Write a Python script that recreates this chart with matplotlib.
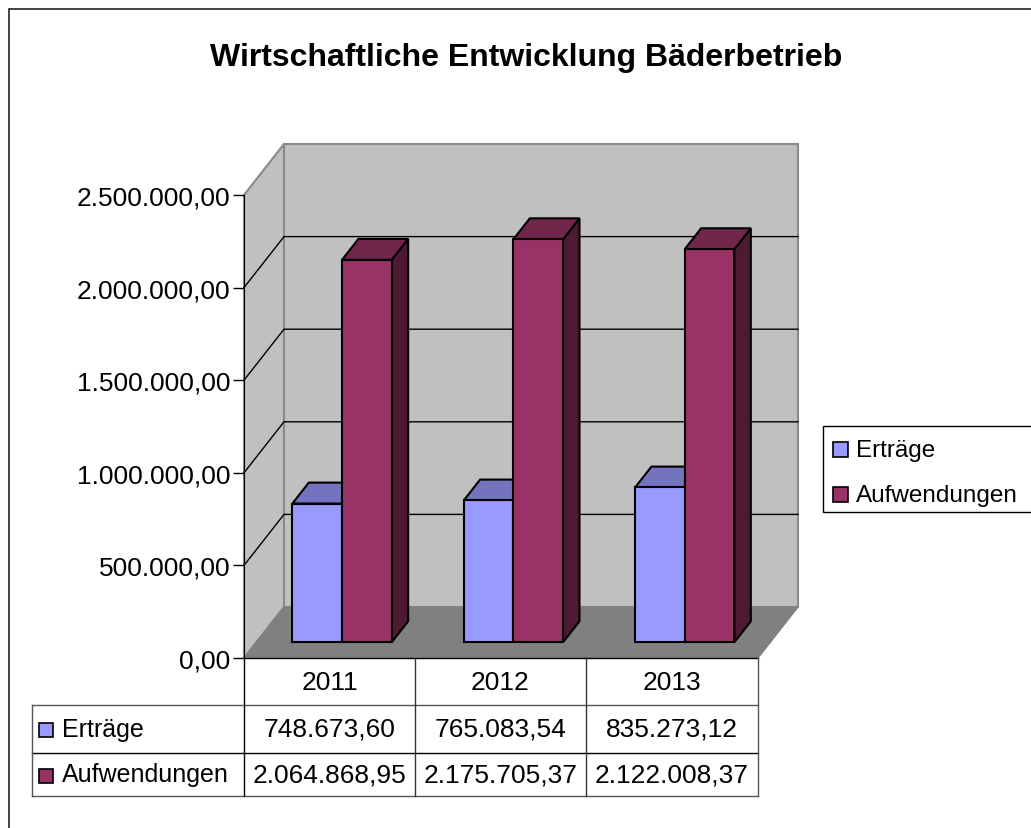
import matplotlib.pyplot as plt
from matplotlib.patches import Polygon, Rectangle
from matplotlib.lines import Line2D

# data
years = ['2011', '2012', '2013']
series_names = ['Erträge', 'Aufwendungen']
ertraege = [748673.60, 765083.54, 835273.12]
aufwendungen = [2064868.95, 2175705.37, 2122008.37]
yticks = [0, 500000, 1000000, 1500000, 2000000, 2500000]

front_colors = ['#9999ff', '#993366']
top_colors = ['#7373bf', '#73264c']
side_colors = ['#4d4d80', '#4d1933']

FS = 19


def de_format(v):
    s = f'{v:,.2f}'
    return s.replace(',', 'X').replace('.', ',').replace('X', '.')


W, H = 1031, 829
plt.rcParams['font.family'] = ['Liberation Sans', 'DejaVu Sans']
fig = plt.figure(figsize=(W / 100, H / 100), dpi=100)


def fx(x):
    return x / W


def fy(y):
    return 1 - y / H


# outer frame
fig.add_artist(Rectangle((fx(9), fy(845)), fx(1050) - fx(9), fy(10) - fy(845),
                         transform=fig.transFigure, fill=False, ec='#222222', lw=1.2))

fig.text(fx(526), fy(58), 'Wirtschaftliche Entwicklung Bäderbetrieb', ha='center', va='center',
         fontsize=23, fontweight='bold')

# front plane of the 3d box
ax = fig.add_axes([fx(244), fy(659), fx(758) - fx(244), fy(196) - fy(659)])
ax.set_xlim(0, 3)
ax.set_ylim(0, 2500000)
ax.patch.set_visible(False)
for s in ['top', 'right', 'bottom']:
    ax.spines[s].set_visible(False)
ax.spines['left'].set_zorder(10)
ax.set_xticks([])
ax.set_yticks(yticks)
ax.set_yticklabels([de_format(v) for v in yticks], fontsize=FS)
ax.tick_params(axis='y', length=8, pad=2, width=1)

# depth offset in data units (40 px right, 51 px up)
DX = 40 / ax.bbox.width * 3
DY = 51 / ax.bbox.height * 2500000


def P(x, v, z):
    return (x + z * DX, v + z * DY)


ymax = yticks[-1]
ax.add_patch(Polygon([P(0, 0, 0), P(0, 0, 1), P(0, ymax, 1), P(0, ymax, 0)],
                     closed=True, fc='#c0c0c0', ec='#8a8a8a', lw=1.5, clip_on=False))
ax.add_patch(Polygon([P(0, 0, 1), P(3, 0, 1), P(3, ymax, 1), P(0, ymax, 1)],
                     closed=True, fc='#c0c0c0', ec='#8a8a8a', lw=1.5, clip_on=False))
ax.add_patch(Polygon([P(0, 0, 0), P(3, 0, 0), P(3, 0, 1), P(0, 0, 1)],
                     closed=True, fc='#808080', ec='#808080', lw=1, clip_on=False))

for v in yticks[1:-1]:
    pts = [P(0, v, 0), P(0, v, 1), P(3, v, 1)]
    ax.plot([p[0] for p in pts], [p[1] for p in pts], color='black', lw=1, clip_on=False)

# bars
bw = 0.29
z0, z1 = 0.31, 0.72
for i in range(len(years)):
    for j, vals in enumerate([ertraege, aufwendungen]):
        x0 = i + 0.21 + j * bw
        x1 = x0 + bw
        v = vals[i]
        front = [P(x0, 0, z0), P(x1, 0, z0), P(x1, v, z0), P(x0, v, z0)]
        top = [P(x0, v, z0), P(x1, v, z0), P(x1, v, z1), P(x0, v, z1)]
        side = [P(x1, 0, z0), P(x1, 0, z1), P(x1, v, z1), P(x1, v, z0)]
        for poly, c in [(side, side_colors[j]), (top, top_colors[j]), (front, front_colors[j])]:
            ax.add_patch(Polygon(poly, closed=True, fc=c, ec='black', lw=1.5,
                                 joinstyle='miter', clip_on=False, zorder=3))

# data table
cols = [244, 415, 586, 758]
rows = [659, 706, 754, 797]
left = 32
outer = '#555555'


def hline(y, xa, xb, c):
    fig.add_artist(Line2D([fx(xa), fx(xb)], [fy(y), fy(y)], transform=fig.transFigure, color=c, lw=1))


def vline(x, ya, yb, c):
    fig.add_artist(Line2D([fx(x), fx(x)], [fy(ya), fy(yb)], transform=fig.transFigure, color=c, lw=1))


hline(rows[0], cols[0], cols[-1], 'black')
hline(rows[1], left, cols[-1], outer)
hline(rows[2], left, cols[-1], 'black')
hline(rows[3], left, cols[-1], outer)
vline(left, rows[1], rows[3], outer)
vline(cols[0], rows[0], rows[3], 'black')
vline(cols[1], rows[0], rows[3], '#333333')
vline(cols[2], rows[0], rows[3], '#333333')
vline(cols[3], rows[0], rows[3], outer)

for i, yr in enumerate(years):
    cx = (cols[i] + cols[i + 1]) / 2
    fig.text(fx(cx), fy((rows[0] + rows[1]) / 2), yr, ha='center', va='center', fontsize=FS)
    for r, vals in enumerate([ertraege, aufwendungen]):
        fig.text(fx(cx), fy((rows[r + 1] + rows[r + 2]) / 2), de_format(vals[i]),
                 ha='center', va='center', fontsize=FS)

for r, name in enumerate(series_names):
    cy = (rows[r + 1] + rows[r + 2]) / 2
    fig.add_artist(Rectangle((fx(39), fy(cy + 8)), fx(14), fy(0) - fy(14), transform=fig.transFigure,
                             fc=front_colors[r], ec='black', lw=1.2))
    fig.text(fx(62), fy(cy), name, ha='left', va='center', fontsize=18)

# legend
fig.add_artist(Rectangle((fx(823), fy(513)), fx(1050) - fx(823), fy(427) - fy(513),
                         transform=fig.transFigure, fc='white', ec='black', lw=1))
for r, name in enumerate(series_names):
    cy = 451 + r * 45
    fig.add_artist(Rectangle((fx(833), fy(cy + 7)), fx(15), fy(0) - fy(15), transform=fig.transFigure,
                             fc=front_colors[r], ec='black', lw=1.2))
    fig.text(fx(856), fy(cy), name, ha='left', va='center', fontsize=17.5)

fig.savefig('out.png', dpi=100)
